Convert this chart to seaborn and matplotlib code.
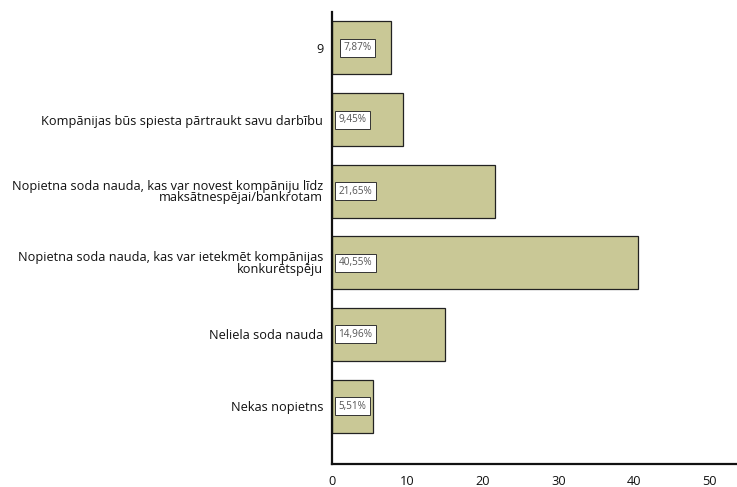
import matplotlib
matplotlib.use("Agg")
import matplotlib.pyplot as plt
import seaborn as sns
import pandas as pd

# data (top to bottom as drawn)
categories = [
    "9",
    "Kompānijas būs spiesta pārtraukt savu darbību",
    "Nopietna soda nauda, kas var novest kompāniju līdz\nmaksātnespējai/bankrotam",
    "Nopietna soda nauda, kas var ietekmēt kompānijas\nkonkurētspēju",
    "Neliela soda nauda",
    "Nekas nopietns",
]
values = [7.87, 9.45, 21.65, 40.55, 14.96, 5.51]
labels = ["7,87%", "9,45%", "21,65%", "40,55%", "14,96%", "5,51%"]

df = pd.DataFrame({"category": categories, "value": values})

sns.set_theme(style="white")
plt.rcParams["font.family"] = ["Open Sans", "DejaVu Sans"]

fig, ax = plt.subplots(figsize=(7.37, 4.87), dpi=100)
fig.subplots_adjust(left=0.450, right=1.0, top=0.975, bottom=0.047)

sns.barplot(data=df, x="value", y="category", color="#c9c896", saturation=1,
            edgecolor="#222222", linewidth=0.9, width=0.74, ax=ax)

for i, (v, lab) in enumerate(zip(values, labels)):
    x0 = 1.6 if i == 0 else 0.9
    ax.text(x0, i, lab, ha="left", va="center", fontsize=7.2, color="#555555",
            bbox=dict(boxstyle="square,pad=0.35", fc="white", ec="#333333", lw=0.7))

ax.set_xlim(0, 53.6)
ax.set_ylim(5.81, -0.5)
ax.set_xticks([0, 10, 20, 30, 40, 50])
ax.set_xlabel("")
ax.set_ylabel("")

for side in ["top", "right"]:
    ax.spines[side].set_visible(False)
for side in ["left", "bottom"]:
    ax.spines[side].set_color("#111111")
    ax.spines[side].set_linewidth(1.6)

ax.tick_params(axis="x", direction="inout", length=9, width=0.8, colors="#111111",
               labelsize=9.2, pad=3)
ax.tick_params(axis="y", direction="out", length=4, width=0.8, colors="#111111",
               labelsize=9.2, pad=2)
for t in ax.get_yticklabels():
    t.set_multialignment("right")
    t.set_linespacing(0.85)

plt.savefig("out.png", dpi=100)
